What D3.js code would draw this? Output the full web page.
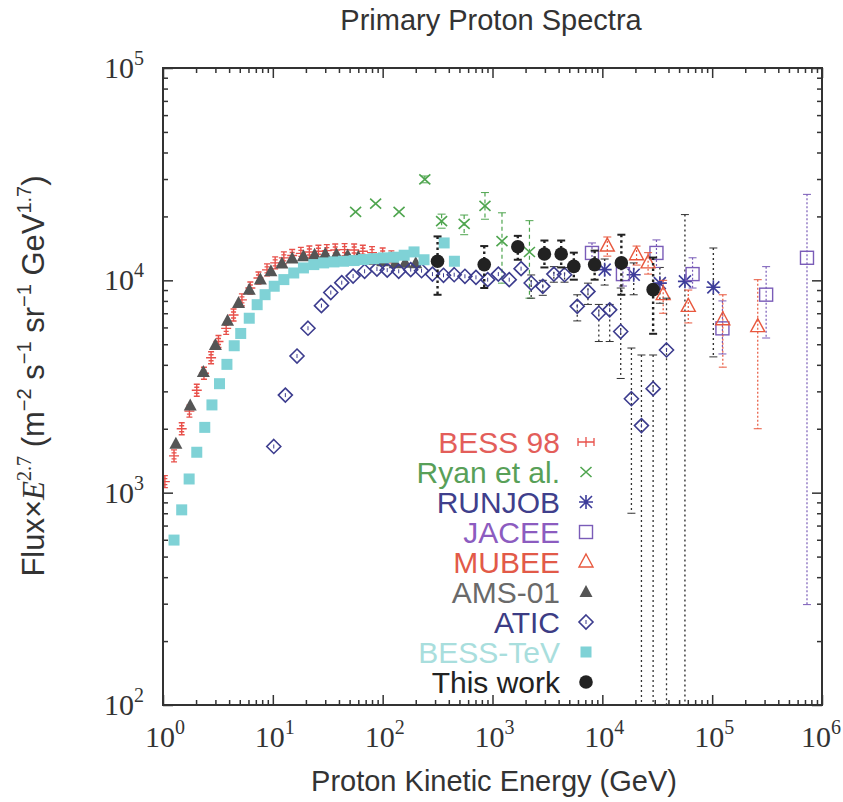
<!DOCTYPE html>
<html>
<head>
<meta charset="utf-8">
<script src="https://cdn.jsdelivr.net/npm/d3@7"></script>
<style>
  body { margin: 0; background: #fff; }
  svg text { font-family: "Liberation Sans", Arial, sans-serif; }
  .serif { font-family: "Liberation Serif", "Times New Roman", serif; }
</style>
</head>
<body>
<div id="chart"></div>
<script>
// kinetic energy in GeV, flux x E^2.7 in m^-2 s^-1 sr^-1 GeV^1.7
const bess98E = [1.04, 1.26, 1.48, 1.74, 2.03, 2.36, 2.74, 3.2, 3.76, 4.39, 5.23, 6.24, 7.4, 8.85, 10.5, 12.6, 15, 18, 21.5, 26, 31, 37, 45, 55, 66, 80, 100, 120];
const bess98F = [1127, 1490, 2000, 2420, 3035, 3650, 4320, 5150, 5940, 6870, 8090, 9200, 10260, 11200, 12080, 12760, 13100, 13400, 13600, 13700, 13800, 13900, 13950, 13900, 13700, 13500, 13300, 12900];

const ryanE = [56.7, 86.3, 141, 242, 344, 552, 854, 1220, 2170];
const ryanF = [21000, 22960, 21000, 29900, 19000, 18460, 22400, 15300, 13600];
const ryanHi = [null, null, null, 31000, 20500, 20300, 25900, 20800, 19100];
const ryanLo = [null, null, null, 28800, 17600, 16400, 19400, 9700, 8240];

const runjobE = [10500, 19300, 33400, 56500, 102500];
const runjobF = [11230, 10630, 9700, 9890, 9270];
const runjobHi = [12600, 12080, 11500, 20400, 14200];
const runjobLo = [9500, 8550, 7800, 10, 4360];

const jaceeE = [8050, 15400, 31100, 66300, 124000, 310000, 730000];
const jaceeF = [13460, 10700, 13460, 10700, 5940, 8560, 12770];
const jaceeHi = [15000, 12000, 15500, 12770, 8000, 11600, 25400];
const jaceeLo = [12000, 9400, 11500, 9200, 4500, 5350, 297];

const mubeeE = [11100, 20500, 26100, 35800, 60600, 125000, 260000];
const mubeeF = [14500, 13200, 12080, 8560, 7540, 6520, 6050];
const mubeeHi = [16000, 14500, 13500, 10000, 9000, 8550, 10070];
const mubeeLo = [13000, 11800, 10700, 7000, 6300, 3900, 2000];

const amsE = [1.31, 1.77, 2.33, 3.0, 3.87, 4.87, 6.1, 7.7, 9.6, 12.1, 15, 19, 24, 30, 38, 48, 60, 80, 100, 130, 160, 200];
const amsF = [1700, 2570, 3700, 4960, 6450, 7820, 9020, 10080, 11030, 12000, 12660, 13000, 13200, 13300, 13250, 13100, 12900, 12500, 12300, 12050, 12100, 12050];

const aticE = [10.2, 13.0, 16.6, 20.9, 27.7, 33.7, 42.4, 53.8, 68.5, 88.7, 110, 140, 180, 226, 284, 358, 448, 561, 707, 904, 1130, 1420, 1820, 2250, 2870, 3620, 4530, 5910, 7400, 9290, 11670, 14700, 18400, 22700, 29000, 38400];
const aticF = [1650, 2880, 4400, 5950, 7600, 8760, 9750, 10470, 11030, 11300, 11170, 11030, 11230, 11100, 10700, 10560, 10630, 10450, 10330, 10070, 10700, 10070, 11350, 9710, 9370, 10700, 10630, 7540, 8870, 7000, 7260, 5740, 2770, 2070, 3090, 4700];
const aticHi = [null, null, null, null, null, null, null, null, null, null, null, null, null, null, null, null, null, null, null, null, null, null, null, 10600, 10000, 11600, 11500, 8550, 9700, 7700, 7700, 9200, 4800, 4450, 4450, 8240];
const aticLo = [null, null, null, null, null, null, null, null, null, null, null, null, null, null, null, null, null, null, null, null, null, null, null, 8240, 8500, 9800, 9800, 6440, 7700, 5150, 5150, 3450, 800, 10, 10, 10];

const bessTevE = [1.26, 1.48, 1.73, 2.03, 2.4, 2.79, 3.27, 3.82, 4.45, 5.1, 6.1, 7.2, 8.5, 10.3, 12.6, 15.5, 19, 23.6, 29, 36, 44, 55, 67, 83, 102, 126, 157, 193, 238, 363, 450];
const bessTevF = [598, 830, 1160, 1550, 2030, 2590, 3260, 4020, 4920, 5620, 6630, 7680, 8560, 9380, 10080, 10830, 11440, 11860, 12080, 12210, 12300, 12390, 12530, 12650, 12760, 12850, 13130, 13610, 12500, 15000, 12300];

const workE = [316, 841, 1700, 2970, 4220, 5500, 8510, 14900, 29000];
const workF = [12300, 11860, 14400, 13300, 13300, 11640, 11860, 12080, 9040];
const workHi = [16100, 14500, 16200, 15400, 15400, 13500, 13800, 16400, 12800];
const workLo = [8550, 9200, 12500, 11500, 11500, 10070, 10070, 8550, 5600];

const xDecades = [1, 10, 100, 1000, 10000, 100000, 1000000];
const yDecades = [100, 1000, 10000, 100000];

const width = 843, height = 802;
const plotLeft = 163, plotRight = 822, plotTop = 68, plotBottom = 705;

const x = d3.scaleLog().domain([1, 1e6]).range([plotLeft, plotRight]);
const y = d3.scaleLog().domain([100, 1e5]).range([plotBottom, plotTop]);

const svg = d3.select("#chart").append("svg")
    .attr("width", width)
    .attr("height", height);

svg.append("clipPath").attr("id", "plotclip")
    .append("rect")
    .attr("x", plotLeft).attr("y", plotTop)
    .attr("width", plotRight - plotLeft).attr("height", plotBottom - plotTop);

// marker shapes, all drawn around (0,0)
function marker(g, type, color) {
    switch (type) {
        case "bess":
            g.append("path")
                .attr("d", "M-5,0H5M0,-6V6M-3,-6H3M-3,6H3M-2.5,-3H2.5M-2.5,3H2.5")
                .attr("stroke", color).attr("stroke-width", 1.4).attr("fill", "none");
            break;
        case "bessKey":
            g.append("path")
                .attr("d", "M-8,0H8M-8,-4V4M8,-4V4M0,-5V5")
                .attr("stroke", color).attr("stroke-width", 1.3).attr("fill", "none");
            break;
        case "cross":
            g.append("path")
                .attr("d", "M-5.5,-5L5.5,5M-5.5,5L5.5,-5")
                .attr("stroke", color).attr("stroke-width", 1.6).attr("fill", "none");
            break;
        case "star":
            g.append("path")
                .attr("d", "M-6,-6L6,6M-6,6L6,-6M-7,0H7M0,-7V7")
                .attr("stroke", color).attr("stroke-width", 1.6).attr("fill", "none");
            break;
        case "osquare":
            g.append("rect")
                .attr("x", -6.5).attr("y", -6.5).attr("width", 13).attr("height", 13)
                .attr("stroke", color).attr("stroke-width", 1.4).attr("fill", "none");
            break;
        case "otri":
            g.append("path")
                .attr("d", "M0,-8L7,5H-7Z")
                .attr("stroke", color).attr("stroke-width", 1.4).attr("fill", "none");
            break;
        case "ftri":
            g.append("path")
                .attr("d", "M0,-7L6.5,5H-6.5Z")
                .attr("fill", color);
            break;
        case "odiamond":
            g.append("path")
                .attr("d", "M0,-7L7,0L0,7L-7,0Z")
                .attr("stroke", color).attr("stroke-width", 1.6).attr("fill", "none");
            g.append("path").attr("d", "M0,-2V2")
                .attr("stroke", color).attr("stroke-width", 1);
            break;
        case "fsquare":
            g.append("rect")
                .attr("x", -5.5).attr("y", -5.5).attr("width", 11).attr("height", 11)
                .attr("fill", color);
            break;
        case "fcircle":
            g.append("circle").attr("r", 6.8).attr("fill", color);
            break;
    }
}

const series = [
    { name: "BESS 98", E: bess98E, F: bess98F, type: "bess", key: "bessKey", color: "#e8504a", text: "#e35e5a" },
    { name: "Ryan et al.", E: ryanE, F: ryanF, hi: ryanHi, lo: ryanLo, type: "cross", color: "#4fa54f", text: "#58a058", dash: "4,3", ew: 1.2 },
    { name: "RUNJOB", E: runjobE, F: runjobF, hi: runjobHi, lo: runjobLo, type: "star", color: "#3d3d9a", text: "#3f3f8c", ecolor: "#333", dash: "2,3", ew: 1.4 },
    { name: "JACEE", E: jaceeE, F: jaceeF, hi: jaceeHi, lo: jaceeLo, type: "osquare", color: "#7a5cb8", text: "#8c5cc0", dash: "2,2", ew: 1.2 },
    { name: "MUBEE", E: mubeeE, F: mubeeF, hi: mubeeHi, lo: mubeeLo, type: "otri", color: "#e8583e", text: "#e25a48", dash: "2,2", ew: 1.2 },
    { name: "AMS-01", E: amsE, F: amsF, type: "ftri", color: "#555", text: "#6a6a6a" },
    { name: "ATIC", E: aticE, F: aticF, hi: aticHi, lo: aticLo, type: "odiamond", color: "#3c3c8e", text: "#3c3c84", ecolor: "#333", dash: "2,3", ew: 1.3 },
    { name: "BESS-TeV", E: bessTevE, F: bessTevF, type: "fsquare", color: "#7fd2d6", text: "#a9dedd" },
    { name: "This work", E: workE, F: workF, hi: workHi, lo: workLo, type: "fcircle", color: "#222", text: "#222", dash: "2.5,3", ew: 2.4 }
];

const plot = svg.append("g").attr("clip-path", "url(#plotclip)");

series.forEach(s => {
    const g = plot.append("g");
    if (s.hi) {
        s.E.forEach((e, i) => {
            if (s.hi[i] == null) return;
            const px = x(e);
            const ec = s.ecolor || s.color;
            g.append("line")
                .attr("x1", px).attr("x2", px)
                .attr("y1", y(s.hi[i])).attr("y2", y(s.lo[i]))
                .attr("stroke", ec).attr("stroke-width", s.ew)
                .attr("stroke-dasharray", s.dash);
            [s.hi[i], s.lo[i]].forEach(v => {
                g.append("line")
                    .attr("x1", px - 4).attr("x2", px + 4)
                    .attr("y1", y(v)).attr("y2", y(v))
                    .attr("stroke", ec).attr("stroke-width", s.ew > 2 ? 2 : 1);
            });
        });
    }
    s.E.forEach((e, i) => {
        const m = g.append("g").attr("transform", `translate(${x(e)},${y(s.F[i])})`);
        marker(m, s.type, s.color);
    });
});

// frame
svg.append("rect")
    .attr("x", plotLeft).attr("y", plotTop)
    .attr("width", plotRight - plotLeft).attr("height", plotBottom - plotTop)
    .attr("fill", "none").attr("stroke", "#333").attr("stroke-width", 2);

// ticks on all four sides, pointing inward
const minorX = [];
xDecades.slice(0, -1).forEach(d => d3.range(2, 10).forEach(m => minorX.push(m * d)));
const minorY = [];
yDecades.slice(0, -1).forEach(d => d3.range(2, 10).forEach(m => minorY.push(m * d)));

function tickAxis(axis, tx, ty) {
    const g = svg.append("g").attr("transform", `translate(${tx},${ty})`).call(axis);
    g.select(".domain").remove();
    g.selectAll(".tick line").attr("stroke", "#333").attr("stroke-width", 1.5);
    g.selectAll(".tick text").remove();
}
tickAxis(d3.axisBottom(x).tickValues(minorX).tickSize(-5), 0, plotBottom);
tickAxis(d3.axisBottom(x).tickValues(xDecades).tickSize(-10), 0, plotBottom);
tickAxis(d3.axisTop(x).tickValues(minorX).tickSize(-5), 0, plotTop);
tickAxis(d3.axisTop(x).tickValues(xDecades).tickSize(-10), 0, plotTop);
tickAxis(d3.axisLeft(y).tickValues(minorY).tickSize(-5), plotLeft, 0);
tickAxis(d3.axisLeft(y).tickValues(yDecades).tickSize(-10), plotLeft, 0);
tickAxis(d3.axisRight(y).tickValues(minorY).tickSize(-5), plotRight, 0);
tickAxis(d3.axisRight(y).tickValues(yDecades).tickSize(-10), plotRight, 0);

// decade labels 10^n
function powerLabel(g, v) {
    g.append("tspan").text("10");
    g.append("tspan").attr("font-size", 20).attr("dy", -13).text(Math.round(Math.log10(v)));
}
xDecades.forEach((v, i) => {
    const last = i === xDecades.length - 1;
    const t = svg.append("text").attr("class", "serif")
        .attr("x", last ? x(v) - 1 : x(v) + 2).attr("y", 747)
        .attr("text-anchor", "middle").attr("font-size", 30).attr("fill", "#333");
    powerLabel(t, v);
});
yDecades.forEach(v => {
    const t = svg.append("text").attr("class", "serif")
        .attr("x", 144).attr("y", y(v) + 10)
        .attr("text-anchor", "end").attr("font-size", 30).attr("fill", "#333");
    powerLabel(t, v);
});

// titles
svg.append("text")
    .attr("x", 491).attr("y", 30)
    .attr("text-anchor", "middle").attr("font-size", 29).attr("fill", "#333")
    .text("Primary Proton Spectra");

svg.append("text")
    .attr("x", 494).attr("y", 791)
    .attr("text-anchor", "middle").attr("font-size", 29).attr("fill", "#333")
    .text("Proton Kinetic Energy (GeV)");

const yl = svg.append("text")
    .attr("transform", "translate(44,376) rotate(-90)")
    .attr("text-anchor", "middle").attr("font-size", 31).attr("fill", "#333");
yl.append("tspan").text("Flux\u00d7");
yl.append("tspan").attr("class", "serif").attr("font-style", "italic").text("E");
yl.append("tspan").attr("class", "serif").attr("font-size", 20).attr("dy", -13).text("2.7");
yl.append("tspan").attr("dy", 13).text(" (m");
yl.append("tspan").attr("font-size", 20).attr("dy", -13).text("\u22122");
yl.append("tspan").attr("dy", 13).text(" s");
yl.append("tspan").attr("font-size", 20).attr("dy", -13).text("\u22121");
yl.append("tspan").attr("dy", 13).text(" sr");
yl.append("tspan").attr("font-size", 20).attr("dy", -13).text("\u22121");
yl.append("tspan").attr("dy", 13).text(" GeV");
yl.append("tspan").attr("font-size", 20).attr("dy", -13).text("1.7");
yl.append("tspan").attr("dy", 13).text(")");

// legend
const legend = svg.append("g");
series.forEach((s, i) => {
    const cy = 442 + i * 30;
    legend.append("text")
        .attr("x", 560).attr("y", cy + 11)
        .attr("text-anchor", "end").attr("font-size", 30).attr("fill", s.text)
        .text(s.name);
    const m = legend.append("g").attr("transform", `translate(586,${cy})`);
    marker(m, s.key || s.type, s.color);
});
</script>
</body>
</html>
